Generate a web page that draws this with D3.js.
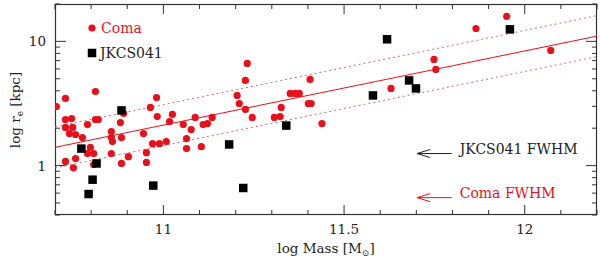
<!DOCTYPE html>
<html>
<head>
<meta charset="utf-8">
<script src="https://cdn.jsdelivr.net/npm/d3@7.9.0/dist/d3.min.js"></script>
<style>
  body { margin: 0; background: #fff; }
  text { font-family: "DejaVu Serif", serif; }
</style>
</head>
<body>
<svg id="chart" width="600" height="260"></svg>
<script>
// Coma galaxies (log mass, r_e in kpc)
const comaMass = [10.704, 10.729, 10.812, 10.890, 10.964, 10.983, 10.981, 10.729, 10.746, 10.729,
  10.749, 10.790, 10.812, 10.820, 10.881, 10.740, 10.757, 10.776, 10.856, 10.856,
  10.859, 10.884, 10.945, 10.970, 10.989, 11.008, 11.064, 10.798, 10.790, 10.807,
  10.729, 10.757, 10.751, 10.807, 10.856, 10.903, 10.884, 10.953, 10.953, 11.017,
  11.025, 11.055, 11.088, 11.077, 11.110, 11.122, 11.135, 11.204, 11.210, 11.227,
  11.246, 11.227, 11.232, 11.064, 11.105, 11.307, 11.323, 11.326, 11.351, 11.365,
  11.376, 11.406, 11.401, 11.409, 11.439, 11.630, 11.749, 11.754, 11.865, 11.950,
  12.072];
const comaRe = [2.99, 3.47, 3.95, 2.63, 2.94, 2.48, 3.53, 2.35, 2.39, 2.03,
  2.03, 2.14, 2.35, 2.35, 2.22, 1.81, 1.78, 1.68, 1.88, 1.68,
  1.56, 1.68, 1.81, 1.50, 1.50, 1.56, 1.65, 1.40, 1.25, 1.25,
  1.08, 1.14, 0.96, 1.02, 1.25, 1.18, 1.04, 1.27, 1.06, 2.26,
  2.58, 2.14, 2.44, 1.95, 2.14, 2.18, 2.44, 3.67, 3.16, 2.83,
  2.44, 4.85, 6.65, 1.37, 1.42, 2.44, 2.48, 2.94, 3.81, 3.81,
  3.81, 4.94, 3.16, 3.16, 2.18, 4.18, 7.16, 5.95, 12.7, 15.9,
  8.46];

// JKCS041 galaxies
const jkcsMass = [10.884, 10.773, 10.815, 10.804, 10.793, 10.972, 11.182, 11.221, 11.340,
  11.580, 11.619, 11.680, 11.699, 11.959];
const jkcsRe = [2.78, 1.37, 1.04, 0.77, 0.59, 0.69, 1.48, 0.66, 2.10,
  3.67, 10.4, 4.85, 4.18, 12.5];

// Coma mass-size fit: log r_e = slope * logM + intercept, +/- scatter (dex)
const fitSlope = 0.597;
const fitIntercept = -6.241;
const fitScatter = 0.165;

// resolution markers
const fwhmLabels = ["JKCS041 FWHM", "Coma FWHM"];
const fwhmRe = [1.25, 0.552];
const fwhmColors = ["#222", "#e8111b"];

const xTicks = [11, 11.5, 12];
const xTickLabels = ["11", "11.5", "12"];
const yTicks = [1, 10];
const yTickLabels = ["1", "10"];

const red = "#e8111b";
const W = 600, H = 260;
const margin = { top: 4, right: 3, bottom: 45, left: 55 };

const svg = d3.select("#chart");
const x = d3.scaleLinear().domain([10.7, 12.2]).range([margin.left, W - margin.right]);
const y = d3.scaleLog().domain([0.4, 20]).range([H - margin.bottom, margin.top]);

svg.append("defs").append("clipPath").attr("id", "clip")
  .append("rect")
  .attr("x", margin.left).attr("y", margin.top)
  .attr("width", W - margin.left - margin.right)
  .attr("height", H - margin.top - margin.bottom);

// ticks
const xMinor = d3.range(10.7, 12.2001, 0.1).map(v => +v.toFixed(2));
const yMinor = [0.4, 0.5, 0.6, 0.7, 0.8, 0.9, 2, 3, 4, 5, 6, 7, 8, 9, 20];

const axisColor = "#333";
const pBottom = H - margin.bottom, pTop = margin.top;
const pLeft = margin.left, pRight = W - margin.right;

function tickLen(v, majors, major, minor) {
  return majors.some(m => Math.abs(m - v) < 1e-6) ? major : minor;
}

const tg = svg.append("g").attr("stroke", axisColor).attr("stroke-width", 1);
xMinor.forEach(v => {
  const len = tickLen(v, xTicks, 10, 5);
  tg.append("line").attr("x1", x(v)).attr("x2", x(v)).attr("y1", pBottom).attr("y2", pBottom - len);
  tg.append("line").attr("x1", x(v)).attr("x2", x(v)).attr("y1", pTop).attr("y2", pTop + len);
});
yMinor.concat(yTicks).forEach(v => {
  const len = tickLen(v, yTicks, 11, 5);
  tg.append("line").attr("y1", y(v)).attr("y2", y(v)).attr("x1", pLeft).attr("x2", pLeft + len);
  tg.append("line").attr("y1", y(v)).attr("y2", y(v)).attr("x1", pRight).attr("x2", pRight - len);
});

// frame
svg.append("rect")
  .attr("x", pLeft + 0.5).attr("y", pTop + 0.5)
  .attr("width", pRight - pLeft - 1).attr("height", pBottom - pTop - 1)
  .attr("fill", "none").attr("stroke", axisColor).attr("stroke-width", 1.2);

// tick labels
svg.append("g").selectAll("text").data(xTicks).join("text")
  .attr("x", d => x(d)).attr("y", pBottom + 19)
  .attr("text-anchor", "middle").attr("font-size", 13.5).attr("fill", "#222")
  .text((d, i) => xTickLabels[i]);
svg.append("g").selectAll("text").data(yTicks).join("text")
  .attr("x", pLeft - 9).attr("y", d => y(d) + 5)
  .attr("text-anchor", "end").attr("font-size", 13.5).attr("fill", "#222")
  .text((d, i) => yTickLabels[i]);

// axis titles
const xt = svg.append("text")
  .attr("x", 326).attr("y", 253)
  .attr("text-anchor", "middle").attr("font-size", 13.5).attr("fill", "#222");
xt.append("tspan").text("log Mass [M");
xt.append("tspan").attr("font-size", 9).attr("dy", 3).text("⊙");
xt.append("tspan").attr("dy", -3).text("]");

const yt = svg.append("text")
  .attr("transform", "translate(20,110) rotate(-90)")
  .attr("text-anchor", "middle").attr("font-size", 13.5).attr("fill", "#222");
yt.append("tspan").text("log r");
yt.append("tspan").attr("font-size", 9).attr("dy", 3).text("e");
yt.append("tspan").attr("dy", -3).text(" [kpc]");

// fit lines
const plot = svg.append("g").attr("clip-path", "url(#clip)");
[0, fitScatter, -fitScatter].forEach(off => {
  const line = d3.line()
    .x(d => x(d))
    .y(d => y(Math.pow(10, fitSlope * d + fitIntercept + off)));
  plot.append("path")
    .attr("d", line(x.domain()))
    .attr("fill", "none")
    .attr("stroke", off === 0 ? red : "#d86a6a")
    .attr("stroke-width", 1)
    .attr("stroke-dasharray", off === 0 ? null : "2,3");
});

// Coma points
plot.append("g").selectAll("circle").data(comaMass).join("circle")
  .attr("cx", d => x(d))
  .attr("cy", (d, i) => y(comaRe[i]))
  .attr("r", 3.6)
  .attr("fill", red);

// JKCS041 points
const sq = 8.5;
plot.append("g").selectAll("rect").data(jkcsMass).join("rect")
  .attr("x", d => x(d) - sq / 2)
  .attr("y", (d, i) => y(jkcsRe[i]) - sq / 2)
  .attr("width", sq).attr("height", sq)
  .attr("fill", "#000");

// legend
svg.append("circle").attr("cx", 92).attr("cy", 28).attr("r", 3.6).attr("fill", red);
svg.append("text").attr("x", 101).attr("y", 33).attr("font-size", 14).attr("fill", red).text("Coma");
svg.append("rect").attr("x", 92 - sq / 2).attr("y", 53 - sq / 2).attr("width", sq).attr("height", sq).attr("fill", "#000");
svg.append("text").attr("x", 100).attr("y", 58).attr("font-size", 14).attr("fill", "#222").text("JKCS041");

// FWHM arrows
fwhmLabels.forEach((lab, i) => {
  const yy = y(fwhmRe[i]);
  const x0 = x(11.702), x1 = x(11.798);
  const g = svg.append("g").attr("stroke", fwhmColors[i]).attr("fill", "none").attr("stroke-width", 1);
  g.append("line").attr("x1", x0).attr("x2", x1).attr("y1", yy).attr("y2", yy);
  g.append("path").attr("d", `M${x0 + 13},${yy - 4} L${x0},${yy} L${x0 + 13},${yy + 4}`);
  svg.append("text").attr("x", x(11.82)).attr("y", yy)
    .attr("font-size", 14).attr("fill", fwhmColors[i]).text(lab);
});
</script>
</body>
</html>
